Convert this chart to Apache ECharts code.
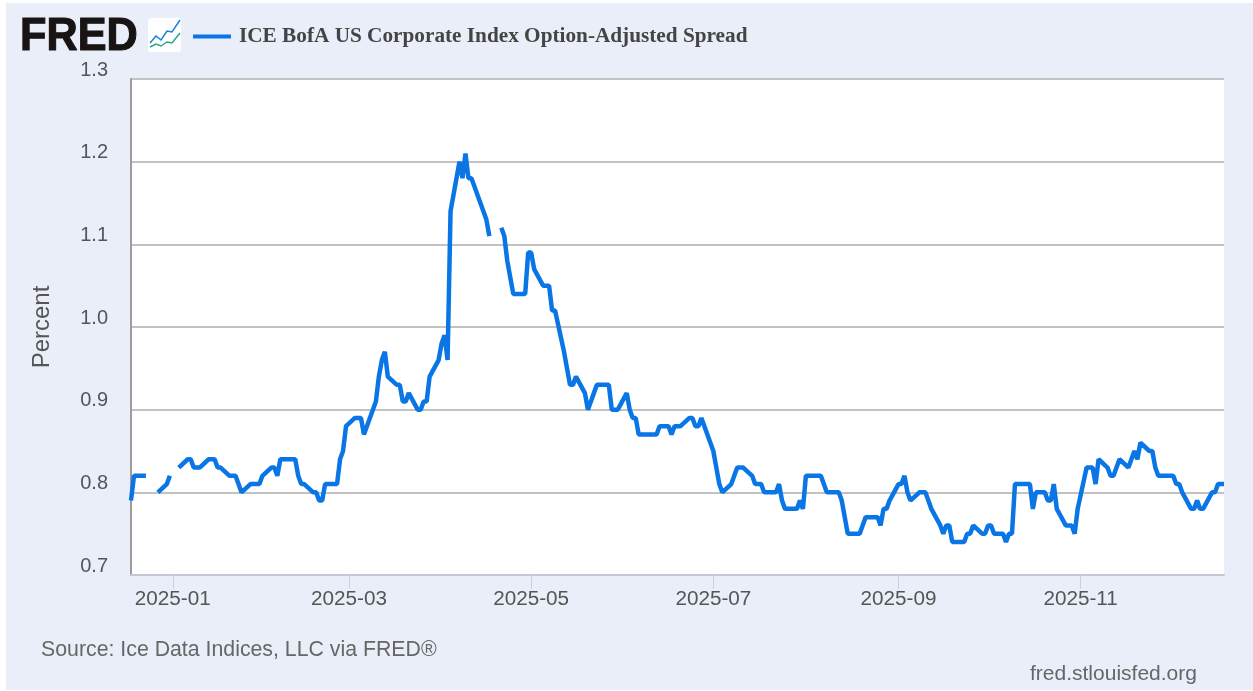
<!DOCTYPE html>
<html>
<head>
<meta charset="utf-8">
<title>ICE BofA US Corporate Index Option-Adjusted Spread</title>
<script src="https://cdn.jsdelivr.net/npm/echarts@6/dist/echarts.min.js"></script>
<style>
  html, body { margin: 0; padding: 0; background: #fff; }
  #panel { position: absolute; left: 6px; top: 3px; width: 1247px; height: 687px; background: #e9eef9; }
  #chart { position: absolute; left: 0; top: 0; width: 1253px; height: 691px; }
</style>
</head>
<body>
<div id="panel"></div>
<div id="chart"></div>
<script>
var seriesName = 'ICE BofA US Corporate Index Option-Adjusted Spread';
var yTicks = [0.7, 0.8, 0.9, 1.0, 1.1, 1.2, 1.3];
var xTicks = ['2025-01-01', '2025-03-01', '2025-05-01', '2025-07-01', '2025-09-01', '2025-11-01'];

// one value per weekday, null where the series has a hole
var dec2024 = [.79, .82, .82, .82, null, null, null, .80, .81, .82]; // starts on the 18th
var jan2025 = [null, null, .83, .84, .84, .83, .83, .83, .84, .84, .84, .83, .83, .82, .82, .82, .81, .80, .81, .81, .81, .81, .82];
var feb2025 = [.83, .83, .82, .84, .84, .84, .84, .82, .81, .81, .80, .80, .79, .79, .81, .81, .81, .84, .85, .88];
var mar2025 = [.89, .89, .89, .87, .88, .91, .94, .96, .97, .94, .93, .93, .91, .91, .92, .90, .90, .91, .91, .94, .96];
var apr2025 = [.98, .99, .96, 1.14, 1.20, 1.18, 1.21, 1.18, 1.18, 1.15, 1.14, 1.13, 1.11, null, 1.12, 1.11, 1.08, 1.06, 1.04, 1.04, 1.04, 1.09];
var may2025 = [1.09, 1.07, 1.05, 1.05, 1.05, 1.02, 1.02, .97, .95, .93, .93, .94, .92, .90, .91, .92, .93, .93, .93, .90, .90, .90];
var jun2025 = [.92, .90, .89, .89, .87, .87, .87, .87, .87, .88, .88, .87, .88, .88, .88, .89, .89, .88, .88, .89, .86];
var jul2025 = [.85, .83, .81, .80, .81, .82, .83, .83, .83, .82, .81, .81, .81, .80, .80, .80, .81, .79, .78, .78, .78, .79, .78];
var aug2025 = [.82, .82, .82, .82, .81, .80, .80, .80, .79, .77, .75, .75, .75, .76, .77, .77, .77, .76, .78, .78, .79];
var sep2025 = [.81, .81, .82, .80, .79, .80, .80, .80, .79, .78, .76, .75, .76, .76, .74, .74, .74, .75, .75, .76, .75, .75];
var oct2025 = [.76, .76, .75, .75, .74, .75, .75, .81, .81, .81, .81, .78, .80, .80, .79, .79, .81, .78, .76, .76, .76, .75, .78];
var nov2025 = [.83, .83, .83, .81, .84, .83, .82, .82, .83, .84, .83, .84, .85, .84, .86, .85, .85, .83, .82, .82];
var dec2025 = [.82, .82, .81, .81, .80, .78, .78, .79, .78, .78, .80, .80, .81, .81, .81];

var allValues = [].concat(dec2024, jan2025, feb2025, mar2025, apr2025, may2025, jun2025, jul2025, aug2025, sep2025, oct2025, nov2025, dec2025);

// walk the weekdays from the first date of the series
var lineData = [];
var t = Date.UTC(2024, 11, 18);
allValues.forEach(function (v) {
  while (new Date(t).getUTCDay() === 0 || new Date(t).getUTCDay() === 6) t += 86400000;
  lineData.push([t, v]);
  t += 86400000;
});

var xTickTimes = xTicks.map(function (d) { return new Date(d + 'T00:00:00Z').getTime(); });

var textColor = '#555';
var myChart = echarts.init(document.getElementById('chart'));
var option = {
  animation: false,
  textStyle: { fontFamily: '"Liberation Sans", Arial, sans-serif' },
  legend: {
    left: 193,
    top: 26,
    padding: 0,
    itemWidth: 38,
    itemHeight: 4,
    data: [{ name: seriesName, icon: 'rect' }],
    textStyle: {
      fontFamily: '"Liberation Serif", serif',
      fontWeight: 'bold',
      fontSize: 21.25,
      color: '#444',
      padding: [0, 0, 0, 3]
    }
  },
  grid: {
    show: true,
    backgroundColor: '#fff',
    borderWidth: 0,
    left: 131,
    right: 29,
    top: 79,
    bottom: 116
  },
  xAxis: {
    type: 'value',
    scale: true,
    min: Date.UTC(2024, 11, 18),
    max: Date.UTC(2025, 11, 19),
    axisLine: { show: true, lineStyle: { color: '#c4c8d4', width: 2 } },
    axisTick: { show: true, customValues: xTickTimes, length: 14, lineStyle: { color: '#c3d2ea', width: 1 } },
    splitLine: { show: false },
    axisLabel: {
      customValues: xTickTimes,
      margin: 14,
      fontSize: 20.7,
      color: textColor,
      hideOverlap: false,
      formatter: function (v) { return new Date(v).toISOString().slice(0, 7); }
    }
  },
  yAxis: {
    type: 'value',
    min: yTicks[0],
    max: yTicks[yTicks.length - 1],
    interval: 0.1,
    name: 'Percent',
    nameLocation: 'middle',
    nameGap: 77,
    nameTextStyle: { fontSize: 24, color: textColor },
    axisLine: { show: true, lineStyle: { color: '#9c9c9c', width: 2 } },
    axisTick: { show: false },
    splitLine: { show: true, lineStyle: { color: '#c2c2c2', width: 2 } },
    axisLabel: {
      margin: 23,
      fontSize: 20,
      lineHeight: 18,
      color: textColor,
      verticalAlign: 'bottom',
      formatter: function (v) { return v.toFixed(1); }
    }
  },
  series: [{
    name: seriesName,
    type: 'line',
    data: lineData,
    showSymbol: false,
    connectNulls: false,
    color: '#0a76e6',
    lineStyle: { width: 4.5, color: '#0a76e6', join: 'bevel' },
    z: 5
  }],
  graphic: [
    { type: 'text', x: 20, y: 14, scaleX: 0.92, style: { text: 'FRED', fontFamily: '"Liberation Sans", Arial, sans-serif', fontWeight: 'bold', fontSize: 47, fill: '#181414', stroke: '#181414', lineWidth: 1.2 } },
    { type: 'rect', shape: { x: 148, y: 18, width: 33, height: 34, r: 3 }, style: { fill: '#fff' } },
    { type: 'polyline', shape: { points: [[150, 43], [156, 36], [161, 40], [167, 31], [172, 32], [180, 20]] }, style: { stroke: '#1a7fe0', lineWidth: 1.5, fill: null } },
    { type: 'polyline', shape: { points: [[150, 47], [156, 44], [161, 46], [167, 42], [172, 43], [180, 33]] }, style: { stroke: '#2aa58c', lineWidth: 1.5, fill: null } },
    { type: 'text', left: 41, top: 640, style: { text: 'Source: Ice Data Indices, LLC via FRED\u00ae', fontFamily: '"Liberation Sans", Arial, sans-serif', fontSize: 21.3, fill: '#666' } },
    { type: 'text', left: 1030, top: 664, style: { text: 'fred.stlouisfed.org', fontFamily: '"Liberation Sans", Arial, sans-serif', fontSize: 21, fill: '#666' } }
  ]
};
myChart.setOption(option);
</script>
</body>
</html>
